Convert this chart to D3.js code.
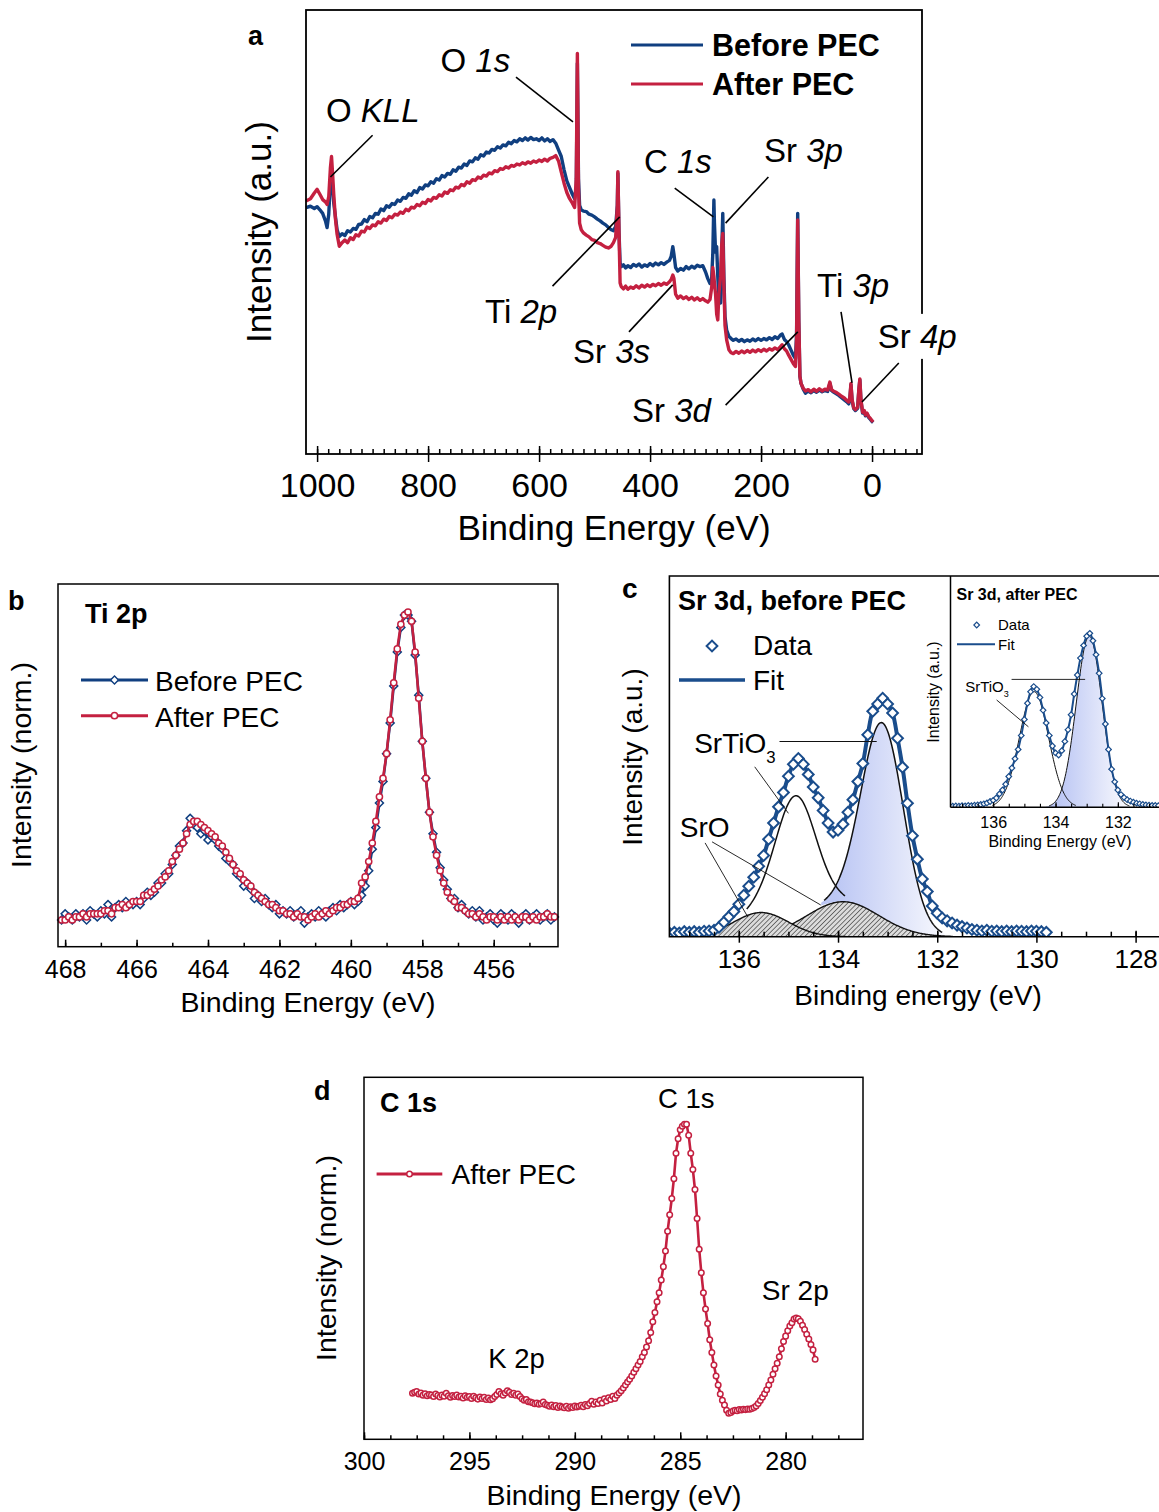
<!DOCTYPE html>
<html><head><meta charset="utf-8">
<script src="https://cdn.jsdelivr.net/npm/d3@7"></script>
<style>html,body{margin:0;background:#fff}svg{display:block}</style>
</head><body>
<svg id="fig" width="1159" height="1512"></svg>
<script>
// ---------- a: survey ----------
const surveyEV = [
  1020,1012,1005,1000,995,990,985,982,979,976, 974,972,970,967,964,960,955,950,945,940,
  935,930,925,920,915,910,905,900,895,890, 885,880,875,870,865,860,855,850,845,840,
  835,830,825,820,815,810,805,800,795,790, 785,780,775,770,765,760,755,750,745,740,
  735,730,725,720,715,710,705,700,695,690, 685,680,675,670,665,660,655,650,645,640,
  635,630,625,620,615,610,605,600,595,590, 585,580,575,570,565,560,555,550,545,540,
  536,533,531,529,527,524,520,515,510,505, 500,495,490,485,480,475,470,466,462,459,
  458,456,454,452,448,444,440,435,430,425, 420,415,410,405,400,395,390,385,380,375,
  370,365,362,359,357,354,350,345,340,335, 330,325,320,315,310,305,300,296,292,289,
  287,285,284,282,280,278,276,273,271,269, 267,265,262,258,254,250,245,240,235,230,
  225,220,215,210,205,200,195,190,185,180, 175,170,165,162,158,154,150,146,142,138,
  136,134,132,130,128,124,120,115,110,105, 100,95,90,85,80,76,73,70,65,60,
  55,50,46,42,40,38,36,33,30,26, 24,22,20,17,14,12,9,6,3,0, -2];
const surveyBefore = [
  55.5,55.8,55.3,55.7,55.0,54.2,52.5,51.0,54.0,61.5, 63.0,60.0,56.5,53.5,50.5,49.0,49.6,49.2,50.3,50.0,
  50.8,50.6,51.7,51.8,52.8,52.3,53.5,53.2,54.2,54.0, 55.2,54.8,55.9,55.6,56.4,56.2,57.2,56.9,57.8,57.6,
  58.6,58.3,59.3,58.9,60.0,59.7,60.6,60.4,61.3,61.0, 62.0,61.7,62.7,62.4,63.2,63.0,64.0,63.7,64.6,64.4,
  65.3,65.0,66.0,65.8,66.7,66.4,67.4,67.1,68.0,67.8, 68.6,68.4,69.2,68.9,69.6,69.4,70.2,69.9,70.6,70.3,
  71.0,70.6,71.2,70.7,71.3,70.8,71.0,70.6,71.2,70.5, 71.0,70.4,70.8,70.0,68.5,67.0,64.0,61.5,60.0,58.5,
  57.5,60.0,88.0,62.0,56.0,55.0,54.7,54.6,54.0,53.8, 53.4,52.9,52.5,52.0,51.6,51.0,50.5,50.3,51.2,56.0,
  63.2,50.0,43.0,42.2,42.6,41.9,42.4,42.0,42.7,42.3, 42.8,42.1,42.6,42.3,42.9,42.4,43.0,42.6,43.1,42.7,
  43.2,43.6,44.5,46.7,45.0,42.0,41.2,41.8,41.4,42.2, 41.7,42.3,41.9,42.5,42.2,42.4,41.0,39.5,38.4,39.5,
  45.0,57.2,52.0,45.5,46.7,40.0,34.7,34.0,45.0,54.2, 40.0,31.0,27.9,26.5,26.0,25.6,25.9,25.4,25.8,25.3,
  25.7,25.4,25.9,25.5,26.0,25.6,26.0,25.7,26.2,25.8, 26.4,26.0,26.8,27.0,25.8,25.3,24.5,23.4,22.3,21.5,
  27.0,54.2,30.0,17.5,15.9,14.6,13.7,14.2,13.8,14.3, 13.9,14.4,14.0,14.3,14.1,15.9,14.3,14.0,13.6,13.2,
  12.7,12.2,11.8,11.3,12.5,15.6,12.0,10.2,9.8,10.3, 14.0,16.7,12.0,9.2,9.5,8.6,9.0,8.2,7.8,7.3, 7.1];
const surveyAfter = [
  57.0,57.5,58.8,59.6,58.5,57.3,56.8,56.2,58.0,64.5, 67.0,63.0,58.5,53.0,49.5,46.8,47.6,48.2,47.6,48.7,
  48.3,49.4,49.1,50.2,50.0,51.1,50.8,51.6,51.4,52.3, 52.0,52.9,52.6,53.5,53.2,54.0,53.8,54.5,54.2,55.1,
  54.8,55.6,55.4,56.2,55.9,56.7,56.4,57.3,57.0,57.8, 57.6,58.4,58.1,59.0,58.7,59.5,59.3,60.1,59.9,60.7,
  60.4,61.3,61.0,61.8,61.6,62.4,62.1,62.8,62.6,63.3, 63.1,63.8,63.6,64.3,64.1,64.7,64.4,65.0,64.8,65.3,
  65.1,65.6,65.3,65.8,65.5,66.0,65.7,66.2,65.9,66.4, 66.0,66.6,66.8,67.2,66.0,63.5,61.0,58.9,57.5,56.5,
  55.5,62.0,90.2,60.0,52.0,50.5,49.8,49.3,48.9,48.3, 48.1,47.6,47.4,47.0,46.6,46.4,46.8,47.6,48.8,56.0,
  63.6,50.0,38.5,37.7,37.2,37.8,37.1,37.6,37.3,37.9, 37.4,38.0,37.6,38.1,37.7,38.2,37.9,38.4,38.0,38.5,
  38.2,38.8,39.3,40.3,39.5,36.0,35.1,35.6,35.0,35.4, 34.8,35.3,34.7,35.2,34.6,35.0,34.5,34.2,34.8,37.5,
  42.0,40.0,38.5,36.0,31.5,30.2,36.0,40.0,47.0,49.7, 38.0,29.0,25.7,23.5,22.8,22.6,23.1,22.7,23.2,22.8,
  23.3,22.9,23.4,23.0,23.5,23.1,23.6,23.2,23.7,23.4, 23.9,23.5,24.2,24.6,23.7,23.2,22.2,21.3,20.4,19.7,
  26.0,52.7,30.0,17.5,15.9,14.8,14.2,14.5,14.0,14.6, 14.1,14.7,14.2,14.6,14.4,16.2,14.5,14.2,13.9,13.5,
  13.0,12.6,12.1,11.7,12.8,15.9,12.3,10.4,10.0,10.5, 14.3,16.9,12.2,9.4,9.8,8.8,9.2,8.4,8.0,7.5, 7.2];
const surveyTicks = [1000, 800, 600, 400, 200, 0];
// peak labels: text anchor (eV, intensity) and leader line ends
const surveyNotes = [
  { parts: [["O "], ["KLL", "i"]], at: [984, 74.8], lead: [[900, 71.8], [976, 62.4]] },
  { parts: [["O "], ["1s", "i"]], at: [777.6, 86], lead: [[641.6, 84.9], [538.9, 74.8]] },
  { parts: [["C "], ["1s", "i"]], at: [410.9, 63.3], lead: [[355.6, 59.9], [285.9, 53.4]] },
  { parts: [["Sr "], ["3p", "i"]], at: [194.7, 65.8], lead: [[186.8, 62.4], [263.9, 52.0]] },
  { parts: [["Ti "], ["2p", "i"]], at: [697.4, 29.5], lead: [[575.8, 37.8], [454.7, 53.4]] },
  { parts: [["Sr "], ["3s", "i"]], at: [538.9, 20.5], lead: [[438, 27.5], [359.2, 38.1]] },
  { parts: [["Sr "], ["3d", "i"]], at: [432.5, 7.2], lead: [[263.9, 11.0], [133.8, 27.5]] },
  { parts: [["Ti "], ["3p", "i"]], at: [99.2, 35.4], lead: [[55.9, 32.0], [36.1, 16.0]] },
  { parts: [["Sr "], ["4p", "i"]], at: [-10.3, 23.9], lead: [[-48.2, 20.5], [18.1, 11.7]], box: true },
];

// ---------- b: Ti 2p (0.1 eV steps from 468.1) ----------
const tiStart = 468.1;
const tiBefore = [
  0.00,0.02,0.01,0.00,0.02,0.01,0.02,0.00,0.03,0.02, 0.01,0.03,0.02,0.05,0.01,0.04,0.05,0.04,0.06,0.05,
  0.05,0.06,0.05,0.07,0.09,0.08,0.09,0.12,0.12,0.15, 0.15,0.18,0.21,0.24,0.25,0.29,0.33,0.31,0.30,0.28,
  0.29,0.26,0.27,0.26,0.24,0.23,0.20,0.19,0.18,0.15, 0.14,0.11,0.12,0.10,0.07,0.08,0.06,0.07,0.05,0.04,
  0.05,0.02,0.03,0.02,0.03,0.01,0.02,0.03,-0.01,0.01, 0.02,0.01,0.03,0.02,0.01,0.03,0.04,0.03,0.05,0.04,
  0.05,0.06,0.05,0.06,0.08,0.11,0.16,0.23,0.30,0.38, 0.45,0.54,0.64,0.76,0.87,0.95,0.99,0.99,0.97,0.86,
  0.73,0.58,0.46,0.35,0.28,0.22,0.17,0.13,0.10,0.07, 0.07,0.04,0.05,0.03,0.02,0.03,0.01,0.03,0.00,0.01,
  0.02,0.00,-0.01,0.02,0.01,0.00,0.02,0.01,-0.01,0.01, 0.02,0.00,0.01,0.02,0.00,0.01,0.02,0.00,0.01];
const tiAfter = [
  0.00,0.00,0.01,0.00,0.01,0.01,0.02,0.01,0.02,0.02, 0.02,0.02,0.03,0.03,0.02,0.04,0.04,0.05,0.04,0.05,
  0.06,0.06,0.06,0.08,0.08,0.09,0.10,0.11,0.13,0.14, 0.16,0.19,0.21,0.23,0.25,0.28,0.31,0.32,0.32,0.31,
  0.30,0.29,0.28,0.27,0.25,0.24,0.22,0.20,0.18,0.16, 0.15,0.13,0.12,0.11,0.09,0.08,0.07,0.06,0.05,0.05,
  0.04,0.03,0.03,0.02,0.02,0.01,0.02,0.01,0.01,0.00, 0.01,0.02,0.01,0.02,0.03,0.02,0.03,0.04,0.04,0.05,
  0.05,0.06,0.06,0.07,0.12,0.14,0.19,0.25,0.32,0.40, 0.46,0.54,0.65,0.77,0.88,0.96,0.99,1.00,0.97,0.87,
  0.72,0.58,0.46,0.35,0.27,0.21,0.16,0.12,0.09,0.07, 0.06,0.04,0.04,0.03,0.02,0.02,0.01,0.02,0.01,0.00,
  0.01,0.01,0.00,0.01,0.00,0.01,0.00,0.01,0.00,0.01, 0.01,0.00,0.01,0.00,0.01,0.01,0.02,0.01,0.01];
const tiTicks = [468, 466, 464, 462, 460, 458, 456];

// ---------- c: Sr 3d before PEC (0.1 eV steps from 137.4) ----------
const srStart = 137.4;
const srBefore = [
  0.010,0.012,0.010,0.014,0.012,0.014,0.012,0.015,0.016,0.018, 0.026,0.040,0.055,0.070,0.090,0.115,0.140,0.165,0.195,0.225,
  0.270,0.315,0.360,0.400,0.445,0.478,0.494,0.478,0.450,0.415, 0.385,0.350,0.315,0.290,0.295,0.312,0.345,0.380,0.430,0.480,
  0.560,0.625,0.645,0.661,0.645,0.620,0.550,0.470,0.370,0.280, 0.215,0.160,0.125,0.085,0.065,0.052,0.044,0.038,0.032,0.028,
  0.024,0.020,0.018,0.016,0.018,0.015,0.016,0.014,0.016,0.014, 0.016,0.015,0.014,0.016,0.015,0.014,0.012];
// fitted components: SrTiO3 3d5/2, 3d3/2 ; SrO 3d5/2, 3d3/2
const stoCenter = [133.1, 134.85], stoHeight = [0.54, 0.32], stoFwhm = [1.0, 0.95];
const sroCenter = [133.9, 135.55], sroHeight = [0.097, 0.067], sroFwhm = [1.7, 1.3];
const srTicks = [136, 134, 132, 130, 128];

// inset: Sr 3d after PEC (0.1 eV steps from 137.3)
const inStart = 137.3;
const srAfter = [
  0.005,0.006,0.005,0.007,0.006,0.008,0.007,0.009,0.010,0.012, 0.015,0.019,0.025,0.030,0.040,0.058,0.075,0.100,0.133,0.170,
  0.210,0.250,0.310,0.380,0.450,0.500,0.522,0.510,0.475,0.420, 0.365,0.310,0.265,0.235,0.226,0.245,0.285,0.335,0.400,0.490,
  0.572,0.645,0.700,0.740,0.752,0.720,0.660,0.580,0.470,0.360, 0.250,0.165,0.110,0.075,0.055,0.042,0.033,0.027,0.022,0.018,
  0.015,0.012,0.010,0.009,0.008,0.008,0.007];
const inCenter = [132.92, 134.69], inHeight = [0.74, 0.50], inFwhm = [0.98, 1.1];
const inTicks = [136, 134, 132];

// ---------- d: C 1s after PEC (0.1 eV steps from 297.7) ----------
const c1sStart = 297.7;
const c1sAfter = [
  .127,.130,.132,.125,.128,.122,.126,.120,.124,.122, .118,.125,.121,.117,.122,.119,.127,.120,.116,.121,
  .118,.122,.117,.119,.114,.120,.116,.118,.113,.119, .115,.111,.117,.113,.116,.110,.114,.109,.112,.118,
  .124,.132,.126,.122,.128,.134,.130,.124,.127,.122, .125,.118,.112,.108,.110,.104,.103,.101,.098,.100,
  .097,.099,.103,.096,.094,.091,.095,.090,.093,.088, .092,.089,.087,.091,.086,.090,.088,.092,.089,.091,
  .094,.090,.096,.093,.099,.105,.097,.103,.099,.108, .100,.112,.106,.115,.110,.119,.113,.122,.128,.134,
  .142,.150,.158,.166,.175,.185,.195,.205,.215,.228, .240,.255,.272,.295,.325,.350,.380,.405,.440,.477,
  .520,.575,.620,.665,.720,.790,.830,.855,.865,.870, .870,.840,.790,.745,.690,.610,.525,.460,.405,.360,
  .320,.275,.240,.205,.175,.150,.125,.108,.095,.080, .072,.074,.078,.080,.079,.082,.081,.083,.082,.084,
  .083,.085,.088,.092,.099,.107,.116,.126,.137,.150, .164,.180,.195,.210,.228,.250,.270,.285,.300,.313,
  .322,.332,.335,.333,.326,.315,.303,.290,.277,.262, .247,.221];
const c1sTicks = [300, 295, 290, 285, 280];

// ---------- drawing ----------
const FONT = "Arial, 'Liberation Sans', Helvetica, sans-serif";
const BLUE = "#103f80", RED = "#c42040", CBLUE = "#1a4d8c";
const svg = d3.select("#fig");
const defs = svg.append("defs");

const series = (start, vals) => vals.map((v, i) => [+(start - i * 0.1).toFixed(2), v]);

function label(g, x, y, parts, size, o = {}) {
  const t = g.append("text").attr("x", x).attr("y", y)
    .attr("font-family", FONT).attr("font-size", size).attr("fill", "#000")
    .attr("font-weight", o.bold ? "bold" : null)
    .attr("text-anchor", o.anchor || "start");
  if (o.rotate) t.attr("transform", `rotate(-90,${x},${y})`);
  (Array.isArray(parts) ? parts : [[parts]]).forEach(p => {
    const s = t.append("tspan").text(p[0]);
    if (p[1] === "i") s.attr("font-style", "italic");
    if (p[1] === "sub") s.attr("font-size", size * 0.6).attr("dy", size * 0.36);
  });
  return t;
}

function ticks(g, x, y0, o) {
  const a = g.append("g").attr("transform", `translate(0,${y0})`);
  const mk = (vals, size, fmt) => {
    const s = a.append("g").call(d3.axisBottom(x).tickValues(vals)
      .tickSizeInner(size).tickSizeOuter(0).tickFormat(fmt || ""));
    s.select(".domain").remove();
    s.selectAll(".tick line").attr("stroke", "#000").attr("stroke-width", o.sw || 1.5);
    return s;
  };
  mk(o.minor, -o.minorUp);
  mk(o.major, -o.majorUp);
  const lab = mk(o.major, o.majorDown || 0, d => d);
  lab.attr("font-family", FONT).attr("font-size", o.fs);
  lab.selectAll("text").attr("y", o.base).attr("dy", 0).attr("fill", "#000");
}

function frame(g, x0, y0, x1, y1, sw) {
  g.append("rect").attr("x", x0).attr("y", y0).attr("width", x1 - x0).attr("height", y1 - y0)
    .attr("fill", "none").attr("stroke", "#000").attr("stroke-width", sw);
}

function marker(g, pts, kind, size, color, sw) {
  const sym = d3.symbol(kind === "diamond" ? d3.symbolSquare : d3.symbolCircle, size);
  g.append("g").selectAll("path").data(pts).join("path")
    .attr("d", sym)
    .attr("transform", d => `translate(${d[0]},${d[1]})` + (kind === "diamond" ? " rotate(45)" : ""))
    .attr("fill", "#fff").attr("stroke", color).attr("stroke-width", sw);
}

// ===== panel a =====
{
  const g = svg.append("g");
  const x = d3.scaleLinear().domain([1020, -90]).range([306, 922]);
  const y = d3.scaleLinear().domain([0, 100]).range([454, 10]);
  const line = d3.line().x(d => x(d[0])).y(d => y(d[1]));
  [[surveyBefore, BLUE], [surveyAfter, RED]].forEach(([vals, col]) => {
    g.append("path").datum(surveyEV.map((e, i) => [e, vals[i]])).attr("d", line)
      .attr("fill", "none").attr("stroke", col).attr("stroke-width", 3.4).attr("stroke-linejoin", "round");
  });
  frame(g, 306, 10, 922, 454, 1.8);
  ticks(g, x, 454, { major: surveyTicks, minor: d3.range(-80, 1001, 20), majorUp: 8, majorDown: 8, minorUp: 5, fs: 34, base: 43 });
  surveyNotes.forEach(n => {
    g.append("line").attr("x1", x(n.lead[0][0])).attr("y1", y(n.lead[0][1]))
      .attr("x2", x(n.lead[1][0])).attr("y2", y(n.lead[1][1])).attr("stroke", "#000").attr("stroke-width", 1.6);
    const t = label(g, x(n.at[0]), y(n.at[1]), n.parts, 33);
    if (n.box) {
      const b = t.node().getBBox();
      g.insert("rect", () => t.node()).attr("x", b.x - 3).attr("y", b.y - 4)
        .attr("width", b.width + 6).attr("height", b.height + 8).attr("fill", "#fff");
    }
  });
  [[BLUE, "Before PEC", 45, 56], [RED, "After PEC", 84, 95]].forEach(([col, s, ly, ty]) => {
    g.append("line").attr("x1", 631).attr("x2", 703).attr("y1", ly).attr("y2", ly).attr("stroke", col).attr("stroke-width", 3);
    label(g, 712, ty, s, 30.5, { bold: true });
  });
  label(g, 248, 45, "a", 27, { bold: true });
  label(g, 614, 540, "Binding Energy (eV)", 35, { anchor: "middle" });
  label(g, 271, 232, "Intensity (a.u.)", 35, { anchor: "middle", rotate: true });
}

// ===== panel b =====
{
  const g = svg.append("g");
  const x = d3.scaleLinear().domain([468.2, 454.2]).range([58, 558]);
  const y = d3.scaleLinear().domain([0, 1]).range([920, 612]);
  const line = d3.line().x(d => x(d[0])).y(d => y(d[1]));
  [[tiBefore, BLUE, "diamond", 32], [tiAfter, RED, "circle", 30]].forEach(([vals, col, kind, sz]) => {
    const pts = series(tiStart, vals);
    g.append("path").datum(pts).attr("d", line).attr("fill", "none").attr("stroke", col).attr("stroke-width", 2.6);
    marker(g, pts.map(d => [x(d[0]), y(d[1])]), kind, sz, col, 1.5);
  });
  frame(g, 58, 584, 558, 946.7, 1.5);
  ticks(g, x, 946.7, { major: tiTicks, minor: d3.range(455, 469, 1), majorUp: 7, minorUp: 4, fs: 25, base: 31.3 });
  [[BLUE, "diamond", 32, "Before PEC", 680, 691], [RED, "circle", 30, "After PEC", 715.7, 727]].forEach(([col, kind, sz, s, ly, ty]) => {
    g.append("line").attr("x1", 81).attr("x2", 148).attr("y1", ly).attr("y2", ly).attr("stroke", col).attr("stroke-width", 3);
    marker(g, [[114.5, ly]], kind, sz, col, 1.5);
    label(g, 155, ty, s, 28);
  });
  label(g, 85, 623, "Ti 2p", 27, { bold: true });
  label(g, 8, 610, "b", 27, { bold: true });
  label(g, 308, 1012, "Binding Energy (eV)", 28.5, { anchor: "middle" });
  label(g, 31, 765, "Intensity (norm.)", 28.5, { anchor: "middle", rotate: true });
}

// ===== panel c =====
const gauss = (E, c, h, w) => h * Math.exp(-4 * Math.LN2 * ((E - c) / w) ** 2);
{
  const g = svg.append("g");
  const x = d3.scaleLinear().domain([137.4, 127]).range([669.4, 1185.2]);
  const y = d3.scaleLinear().domain([0, 1]).range([936.7, 576]);

  // hatch + gradients
  const pat = defs.append("pattern").attr("id", "hatch").attr("patternUnits", "userSpaceOnUse")
    .attr("width", 3.4).attr("height", 3.4).attr("patternTransform", "rotate(45)");
  pat.append("rect").attr("width", 3.4).attr("height", 3.4).attr("fill", "#dcdcdc");
  pat.append("line").attr("x1", 0).attr("y1", 0).attr("x2", 0).attr("y2", 3.4).attr("stroke", "#1a1a1a").attr("stroke-width", 1.1);
  const grad = (id, x1, x2) => {
    const lg = defs.append("linearGradient").attr("id", id).attr("gradientUnits", "userSpaceOnUse")
      .attr("x1", x1).attr("x2", x2).attr("y1", 0).attr("y2", 0);
    lg.append("stop").attr("offset", 0).attr("stop-color", "#bcc7f4");
    lg.append("stop").attr("offset", 1).attr("stop-color", "#f6f7fd");
  };
  grad("gMain", x(134.05), x(131.9));

  defs.append("clipPath").attr("id", "clipC").append("rect").attr("x", 669.4).attr("y", 576).attr("width", 490).attr("height", 361);
  const p = g.append("g").attr("clip-path", "url(#clipC)");
  const grid = d3.range(0, 396).map(i => 137.4 - i * 0.02);
  const sro = E => d3.sum(sroCenter, (c, i) => gauss(E, c, sroHeight[i], sroFwhm[i]));
  const sto = (E, k) => gauss(E, stoCenter[k], stoHeight[k], stoFwhm[k]);

  const near = (k, w) => grid.filter(E => Math.abs(E - stoCenter[k]) < w);
  p.append("path").datum(near(0, 1.25))
    .attr("d", d3.area().x(E => x(E)).y0(E => y(sro(E))).y1(E => y(sro(E) + sto(E, 0))))
    .attr("fill", "url(#gMain)");
  sroCenter.forEach((c, i) => {
    const pts = grid.filter(E => Math.abs(E - c) < sroFwhm[i] * 1.3);
    p.append("path").datum(pts)
      .attr("d", d3.area().x(E => x(E)).y0(y(0)).y1(E => y(gauss(E, c, sroHeight[i], sroFwhm[i]))))
      .attr("fill", "url(#hatch)").attr("stroke", "#111").attr("stroke-width", 1.4);
  });
  [[0, 1.2], [1, 1.0]].forEach(([k, w]) => {
    p.append("path").datum(near(k, w))
      .attr("d", d3.line().x(E => x(E)).y(E => y(sro(E) + sto(E, k))))
      .attr("fill", "none").attr("stroke", "#111").attr("stroke-width", 1.5);
  });
  const pts = series(srStart, srBefore);
  p.append("path").datum(pts).attr("d", d3.line().curve(d3.curveCatmullRom).x(d => x(d[0])).y(d => y(d[1])))
    .attr("fill", "none").attr("stroke", CBLUE).attr("stroke-width", 4);
  marker(p, pts.map(d => [x(d[0]), y(d[1])]), "diamond", 58, CBLUE, 2);

  // leaders + labels
  const lead = (a, b, w) => g.append("line").attr("x1", x(a[0])).attr("y1", y(a[1])).attr("x2", x(b[0])).attr("y2", y(b[1]))
    .attr("stroke", "#111").attr("stroke-width", w);
  lead([135.18, 0.541], [133.22, 0.541], 1.1);
  lead([135.68, 0.471], [135.0, 0.342], 0.9);
  lead([136.68, 0.26], [135.82, 0.055], 0.9);
  lead([136.54, 0.263], [134.35, 0.088], 0.9);
  label(g, x(136.9), y(0.51), [["SrTiO"], ["3", "sub"]], 28);
  label(g, x(137.19), y(0.277), "SrO", 28);

  // ----- inset -----
  const ix = d3.scaleLinear().domain([137.37, 130.68]).range([950.5, 1159]);
  const iy = d3.scaleLinear().domain([0, 1]).range([807.3, 576]);
  const ig = g.append("g");
  ig.append("rect").attr("x", 950.5).attr("y", 576).attr("width", 210).attr("height", 231.3).attr("fill", "#fff");
  grad("gIn", ix(133.9), ix(131.8));
  defs.append("clipPath").attr("id", "clipI").append("rect").attr("x", 950.5).attr("y", 576).attr("width", 210).attr("height", 231.3);
  const ip = ig.append("g").attr("clip-path", "url(#clipI)");
  const igrid = d3.range(0, 336).map(i => 137.37 - i * 0.02);
  const comp = (E, k) => gauss(E, inCenter[k], inHeight[k], inFwhm[k]);
  ip.append("path").datum(igrid.filter(E => Math.abs(E - inCenter[0]) < 1.4))
    .attr("d", d3.area().x(E => ix(E)).y0(iy(0)).y1(E => iy(comp(E, 0))))
    .attr("fill", "url(#gIn)");
  [[0, 1.3], [1, 1.35]].forEach(([k, w]) => {
    ip.append("path").datum(igrid.filter(E => Math.abs(E - inCenter[k]) < w))
      .attr("d", d3.line().x(E => ix(E)).y(E => iy(comp(E, k))))
      .attr("fill", "none").attr("stroke", "#111").attr("stroke-width", 1);
  });
  const ipts = series(inStart, srAfter);
  ip.append("path").datum(ipts).attr("d", d3.line().curve(d3.curveCatmullRom).x(d => ix(d[0])).y(d => iy(d[1])))
    .attr("fill", "none").attr("stroke", CBLUE).attr("stroke-width", 2);
  marker(ip, ipts.map(d => [ix(d[0]), iy(d[1])]), "diamond", 16, CBLUE, 1.2);
  ig.append("line").attr("x1", 950.5).attr("x2", 950.5).attr("y1", 576).attr("y2", 807.3).attr("stroke", "#000").attr("stroke-width", 1.5);
  ig.append("line").attr("x1", 950.5).attr("x2", 1160).attr("y1", 807.3).attr("y2", 807.3).attr("stroke", "#000").attr("stroke-width", 1.5);
  ticks(ig, ix, 807.3, { major: inTicks, minor: d3.range(131, 137.1, 0.5), majorUp: 5, minorUp: 3.5, fs: 16, base: 21, sw: 1.1 });
  const ilead = (a, b) => ig.append("line").attr("x1", ix(a[0])).attr("y1", iy(a[1])).attr("x2", ix(b[0])).attr("y2", iy(b[1]))
    .attr("stroke", "#111").attr("stroke-width", 0.9);
  ilead([135.41, 0.553], [133.05, 0.553]);
  ilead([135.89, 0.464], [134.87, 0.348]);
  label(ig, ix(136.9), iy(0.5), [["SrTiO"], ["3", "sub"]], 15);
  label(ig, 956.5, 600, "Sr 3d, after PEC", 16, { bold: true });
  marker(ig, [[976.7, 625]], "diamond", 16, CBLUE, 1.2);
  label(ig, 998, 630, "Data", 15);
  ig.append("line").attr("x1", 957).attr("x2", 995).attr("y1", 644.3).attr("y2", 644.3).attr("stroke", CBLUE).attr("stroke-width", 2);
  label(ig, 998, 650, "Fit", 15);
  label(ig, 1060, 847, "Binding Energy (eV)", 16, { anchor: "middle" });
  label(ig, 939, 692, "Intensity (a.u.)", 16, { anchor: "middle", rotate: true });

  // main frame + axis
  g.append("path").attr("d", "M1160,576H669.4V936.7H1160").attr("fill", "none").attr("stroke", "#000").attr("stroke-width", 1.6);
  ticks(g, x, 936.7, { major: srTicks, minor: d3.range(127.5, 137.1, 0.5), majorUp: 6, majorDown: 6, minorUp: 5, fs: 26, base: 31.5 });
  label(g, 678, 610, "Sr 3d, before PEC", 27, { bold: true });
  marker(g, [[712, 646]], "diamond", 58, CBLUE, 2);
  label(g, 753, 655, "Data", 28);
  g.append("line").attr("x1", 679).attr("x2", 745).attr("y1", 680).attr("y2", 680).attr("stroke", CBLUE).attr("stroke-width", 3.5);
  label(g, 753, 690, "Fit", 28);
  label(g, 622, 598, "c", 28, { bold: true });
  label(g, 918, 1005, "Binding energy (eV)", 28, { anchor: "middle" });
  label(g, 642, 757, "Intensity (a.u.)", 28, { anchor: "middle", rotate: true });
}

// ===== panel d =====
{
  const g = svg.append("g");
  const x = d3.scaleLinear().domain([300, 276.33]).range([364, 863]);
  const y = d3.scaleLinear().domain([0, 1]).range([1439.3, 1077.3]);
  const pts = series(c1sStart, c1sAfter);
  g.append("path").datum(pts).attr("d", d3.line().x(d => x(d[0])).y(d => y(d[1])))
    .attr("fill", "none").attr("stroke", RED).attr("stroke-width", 2.6);
  marker(g, pts.map(d => [x(d[0]), y(d[1])]), "circle", 24, RED, 1.5);
  frame(g, 364, 1077.3, 863, 1439.3, 1.5);
  ticks(g, x, 1439.3, { major: c1sTicks, minor: d3.range(0, 19).map(i => 300 - i * 1.25), majorUp: 7, minorUp: 4, fs: 25, base: 31 });
  label(g, x(286.06), y(0.914), "C 1s", 27.5);
  label(g, x(281.13), y(0.385), "Sr 2p", 28);
  label(g, x(294.11), y(0.196), "K 2p", 27.5);
  g.append("line").attr("x1", 376.6).attr("x2", 442.3).attr("y1", 1174).attr("y2", 1174).attr("stroke", RED).attr("stroke-width", 3);
  marker(g, [[409.5, 1174]], "circle", 24, RED, 1.5);
  label(g, 451.5, 1184, "After PEC", 28);
  label(g, 380, 1112, "C 1s", 27, { bold: true });
  label(g, 314, 1100, "d", 27, { bold: true });
  label(g, 614, 1505, "Binding Energy (eV)", 28.5, { anchor: "middle" });
  label(g, 336, 1258, "Intensity (norm.)", 28.5, { anchor: "middle", rotate: true });
}
</script>
</body></html>
